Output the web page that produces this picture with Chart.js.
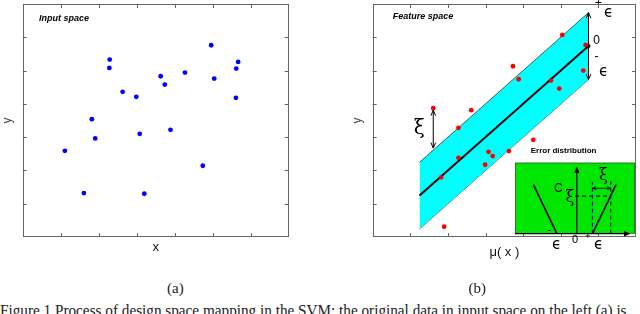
<!DOCTYPE html>
<html>
<head>
<meta charset="utf-8">
<script src="https://cdn.jsdelivr.net/npm/chart.js@4.4.0/dist/chart.umd.min.js"></script>
<style>
body{margin:0;background:#fff;}
#wrap{position:relative;width:640px;height:314px;overflow:hidden;background:#fff;}
canvas{position:absolute;}
.cap{position:absolute;font-family:"Liberation Serif","Times New Roman",serif;color:#222;white-space:nowrap;line-height:1;}
</style>
</head>
<body>
<div id="wrap">
  <canvas id="inputChart" width="320" height="270" style="left:0;top:0"></canvas>
  <canvas id="featureChart" width="320" height="270" style="left:320px;top:0"></canvas>
  <canvas id="errorChart" width="140" height="125" style="left:500px;top:140px"></canvas>
  <div class="cap" id="capA" style="top:281px;font-size:15px">(a)</div>
  <div class="cap" id="capB" style="top:281px;font-size:15px">(b)</div>
  <div class="cap" id="capLine" style="left:0;top:302.5px;font-size:16px;transform-origin:0 0">Figure 1 Process of design space mapping in the SVM; the original data in input space on the left (a) is</div>
</div>
<script>
// (a) input space
var inputX = [1.11, 1.61, 1.82, 1.91, 2.29, 2.28, 2.63, 2.99, 3.08, 3.20, 3.63, 3.74, 3.89, 4.27, 4.74, 4.96, 5.04, 5.61, 5.62, 5.67];
var inputY = [2.59, 1.32, 3.54, 2.96, 5.33, 5.08, 4.36, 4.21, 3.10, 1.30, 4.83, 4.58, 3.22, 4.94, 2.14, 5.76, 4.76, 4.18, 5.06, 5.26];
// (b) feature space
var featureX = [1.61, 1.82, 1.90, 2.28, 2.28, 2.62, 2.99, 3.08, 3.19, 3.62, 3.73, 3.88, 4.27, 4.74, 4.96, 5.04, 5.60, 5.66];
var featureY = [3.87, 1.79, 0.31, 3.28, 2.38, 3.81, 2.17, 2.56, 2.43, 2.58, 5.13, 4.74, 2.92, 4.70, 4.46, 6.07, 5.00, 5.77];
var bandX = [1.245, 5.737];
var fitY = [1.25, 5.74];
var upperY = [2.245, 6.74];
var lowerY = [0.245, 4.73];
var axisTicks = [1, 2, 3, 4, 5, 6];
// inset: error distribution
var lossX = [-2.44, -1.12, 0.88, 2.21];
var lossY = [2.78, 0, 0, 2.78];
var slackX = [0.88, 1.91];
var slackY = 2.12;

Chart.defaults.font.family = '"Liberation Sans", Arial, sans-serif';
Chart.defaults.color = '#000';

function pts(xs, ys) {
  return xs.map(function (x, i) { return { x: x, y: ys[i] }; });
}

function text(ctx, str, x, y, font, align) {
  ctx.save();
  ctx.font = font;
  ctx.fillStyle = '#000';
  ctx.textAlign = align || 'center';
  ctx.textBaseline = 'middle';
  ctx.fillText(str, x, y);
  ctx.restore();
}

function head(ctx, x, y, ang, size, filled) {
  ctx.beginPath();
  ctx.moveTo(x - size * Math.cos(ang - 0.4), y - size * Math.sin(ang - 0.4));
  ctx.lineTo(x, y);
  ctx.lineTo(x - size * Math.cos(ang + 0.4), y - size * Math.sin(ang + 0.4));
  if (filled) { ctx.closePath(); ctx.fill(); } else ctx.stroke();
}

var framePlugin = {
  id: 'frame',
  afterDraw: function (chart) {
    var a = chart.chartArea, ctx = chart.ctx;
    var sx = chart.scales.x, sy = chart.scales.y;
    ctx.save();
    ctx.strokeStyle = '#666';
    ctx.lineWidth = 1;
    ctx.strokeRect(Math.round(a.left) + 0.5, Math.round(a.top) + 0.5, Math.round(a.right - a.left) - 1, Math.round(a.bottom - a.top) - 1);
    ctx.beginPath();
    axisTicks.forEach(function (t) {
      var px = Math.round(sx.getPixelForValue(t)) + 0.5;
      ctx.moveTo(px, a.bottom); ctx.lineTo(px, a.bottom - 4);
      ctx.moveTo(px, a.top); ctx.lineTo(px, a.top + 4);
      var py = Math.round(sy.getPixelForValue(t)) + 0.5;
      ctx.moveTo(a.left, py); ctx.lineTo(a.left + 4, py);
      ctx.moveTo(a.right, py); ctx.lineTo(a.right - 4, py);
    });
    ctx.stroke();
    ctx.restore();
  }
};

function baseScales(yWidth, xTitle, xPad, yPad) {
  return {
    x: {
      type: 'linear', min: 0, max: 7,
      ticks: { display: false, stepSize: 1 },
      grid: { display: false }, border: { display: false },
      title: { display: true, text: xTitle, color: '#111', font: { size: 13 }, padding: { top: 0, bottom: xPad } },
      afterFit: function (s) { s.height = 33; }
    },
    y: {
      type: 'linear', min: 0, max: 7,
      ticks: { display: false, stepSize: 1 },
      grid: { display: false }, border: { display: false },
      title: { display: true, text: 'y', color: '#444', font: { size: 12 }, padding: { top: yPad, bottom: 0 } },
      afterFit: function (s) { s.width = yWidth; }
    }
  };
}

var common = {
  responsive: false,
  animation: false,
  devicePixelRatio: 1,
  plugins: { legend: { display: false }, tooltip: { enabled: false } }
};

new Chart(document.getElementById('inputChart'), {
  type: 'scatter',
  data: {
    datasets: [{
      data: pts(inputX, inputY),
      backgroundColor: '#0000ff', borderColor: '#0000ff',
      pointRadius: 2.4, borderWidth: 0
    }]
  },
  options: Object.assign({}, common, {
    layout: { padding: { left: 0, top: 2, right: 31.3, bottom: 0 } },
    scales: baseScales(22.7, 'x', 15.2, 0.3)
  }),
  plugins: [framePlugin, {
    id: 'inputLabel',
    afterDraw: function (chart) {
      text(chart.ctx, 'Input space', 39, 19, 'italic bold 9px "Liberation Sans", Arial', 'left');
    }
  }]
});

new Chart(document.getElementById('featureChart'), {
  type: 'scatter',
  data: {
    datasets: [
      {
        data: pts(featureX, featureY),
        backgroundColor: '#ff0000', borderColor: '#ff0000',
        pointRadius: 2.4, borderWidth: 0
      },
      {
        data: pts(bandX, fitY), showLine: true,
        borderColor: '#000', borderWidth: 2,
        pointRadius: [0, 2], pointBorderWidth: 0, backgroundColor: '#000'
      },
      {
        data: pts(bandX, upperY), showLine: true,
        borderColor: '#333', borderWidth: 0.8, pointRadius: 0,
        backgroundColor: '#00ffff', fill: '+1'
      },
      {
        data: pts(bandX, lowerY), showLine: true,
        borderColor: '#333', borderWidth: 0.8, pointRadius: 0
      }
    ]
  },
  options: Object.assign({}, common, {
    layout: { padding: { left: 0, top: 2, right: 1, bottom: 0 } },
    scales: baseScales(52.7, '\u03BC( x )', 10.2, 30.8)
  }),
  plugins: [framePlugin, {
    id: 'featureMarks',
    afterDatasetsDraw: function (chart) {
      var ctx = chart.ctx, sx = chart.scales.x, sy = chart.scales.y;
      ctx.save();
      ctx.strokeStyle = '#000';
      ctx.lineWidth = 1;
      // epsilon tube edge arrow
      var ex = sx.getPixelForValue(bandX[1]);
      var et = sy.getPixelForValue(upperY[1]), eb = sy.getPixelForValue(lowerY[1]);
      ctx.beginPath(); ctx.moveTo(ex, et); ctx.lineTo(ex, eb); ctx.stroke();
      head(ctx, ex, et, -Math.PI / 2, 6, false);
      head(ctx, ex, eb, Math.PI / 2, 6, false);
      // slack arrow
      var fx = featureX[0];
      var up = upperY[0] + (fx - bandX[0]) * (upperY[1] - upperY[0]) / (bandX[1] - bandX[0]);
      var ax = sx.getPixelForValue(fx);
      var a1 = sy.getPixelForValue(featureY[0]) + 2, a2 = sy.getPixelForValue(up) - 2;
      ctx.beginPath(); ctx.moveTo(ax, a1); ctx.lineTo(ax, a2); ctx.stroke();
      head(ctx, ax, a1, -Math.PI / 2, 6, false);
      head(ctx, ax, a2, Math.PI / 2, 6, false);
      ctx.restore();
      text(ctx, '\u03BE', ax - 14, sy.getPixelForValue(3.24), '20px "DejaVu Serif", serif');
      text(ctx, '+', ex + 10, 4, '12px "Liberation Sans", Arial');
      text(ctx, '\u03F5', ex + 20, 13, '15px "DejaVu Sans", sans-serif');
      text(ctx, '0', ex + 8, 41, '12px "Liberation Sans", Arial');
      text(ctx, '-', ex + 8, 57, '12px "Liberation Sans", Arial');
      text(ctx, '\u03F5', ex + 15, 72, '15px "DejaVu Sans", sans-serif');
      text(ctx, 'Feature space', 72.7, 16.7, 'italic bold 9px "Liberation Sans", Arial', 'left');
    }
  }]
});

new Chart(document.getElementById('errorChart'), {
  type: 'scatter',
  data: {
    datasets: [
      { data: pts(lossX, lossY), showLine: true, borderColor: '#000', borderWidth: 1.6, pointRadius: 0 },
      { data: [{ x: slackX[0], y: 0 }, { x: slackX[0], y: 2.9 }], showLine: true, borderColor: '#0000ff', borderWidth: 1.2, borderDash: [4, 3], pointRadius: 0 },
      { data: [{ x: slackX[1], y: 0 }, { x: slackX[1], y: 2.95 }], showLine: true, borderColor: '#000', borderWidth: 1, borderDash: [4, 3], pointRadius: 0 },
      { data: [{ x: -0.1, y: slackY }, { x: slackX[1], y: slackY }], showLine: true, borderColor: '#000', borderWidth: 1, borderDash: [4, 3], pointRadius: 0 }
    ]
  },
  options: Object.assign({}, common, {
    layout: { padding: { left: 15, top: 22.7, right: 5, bottom: 31.3 } },
    scales: {
      x: { type: 'linear', display: false, min: -3.47, max: 3.27 },
      y: { type: 'linear', display: false, min: 0, max: 4 }
    }
  }),
  plugins: [{
    id: 'errorBox',
    beforeDatasetsDraw: function (chart) {
      var a = chart.chartArea, ctx = chart.ctx;
      ctx.save();
      ctx.fillStyle = '#00e600';
      ctx.fillRect(a.left, a.top, a.right - a.left, a.bottom - a.top);
      ctx.strokeStyle = '#2a6a2a';
      ctx.lineWidth = 0.8;
      ctx.strokeRect(a.left + 0.4, a.top + 0.4, a.right - a.left - 0.8, a.bottom - a.top - 0.8);
      ctx.restore();
    },
    afterDatasetsDraw: function (chart) {
      var ctx = chart.ctx, sx = chart.scales.x, sy = chart.scales.y, a = chart.chartArea;
      ctx.save();
      ctx.strokeStyle = '#000';
      ctx.fillStyle = '#000';
      ctx.lineWidth = 1.2;
      var y0 = sy.getPixelForValue(0);
      var xEnd = sx.getPixelForValue(2.9);
      ctx.beginPath(); ctx.moveTo(a.left, y0); ctx.lineTo(xEnd, y0); ctx.stroke();
      head(ctx, xEnd + 2, y0, 0, 7, true);
      var x0 = sx.getPixelForValue(0), yTop = sy.getPixelForValue(3.68);
      ctx.beginPath(); ctx.moveTo(x0, y0); ctx.lineTo(x0, yTop); ctx.stroke();
      head(ctx, x0, yTop - 2, -Math.PI / 2, 7, true);
      // slack width arrow
      var ya = sy.getPixelForValue(2.56);
      var xa = sx.getPixelForValue(slackX[0]), xb = sx.getPixelForValue(slackX[1]);
      ctx.lineWidth = 0.8;
      ctx.beginPath(); ctx.moveTo(xa, ya); ctx.lineTo(xb, ya); ctx.stroke();
      head(ctx, xa, ya, Math.PI, 4, false);
      head(ctx, xb, ya, 0, 4, false);
      ctx.restore();
      text(ctx, 'Error distribution', 30.7, 11, 'bold 8px "Liberation Sans", Arial', 'left');
      text(ctx, '\u03BE', 103.3, 36, '16px "DejaVu Serif", serif');
      text(ctx, 'C', 58.3, 48.3, '12px "Liberation Sans", Arial');
      text(ctx, '\u03BE', 70, 58, '16px "DejaVu Serif", serif');
      text(ctx, '-', 49.3, 90, '11px "Liberation Sans", Arial');
      text(ctx, '0', 75, 100, '11px "Liberation Sans", Arial');
      text(ctx, '\u03F5', 56.7, 105, '15px "DejaVu Sans", sans-serif');
      text(ctx, '\u03F5', 98.7, 105, '15px "DejaVu Sans", sans-serif');
      text(ctx, '+', 88, 96.5, '9px "Liberation Sans", Arial');
    }
  }]
});

// caption placement
var capA = document.getElementById('capA');
capA.style.left = (175.5 - capA.offsetWidth / 2) + 'px';
var capB = document.getElementById('capB');
capB.style.left = (477.5 - capB.offsetWidth / 2) + 'px';
var capLine = document.getElementById('capLine');
capLine.style.transform = 'scaleX(' + (627 / capLine.offsetWidth) + ')';
</script>
</body>
</html>
